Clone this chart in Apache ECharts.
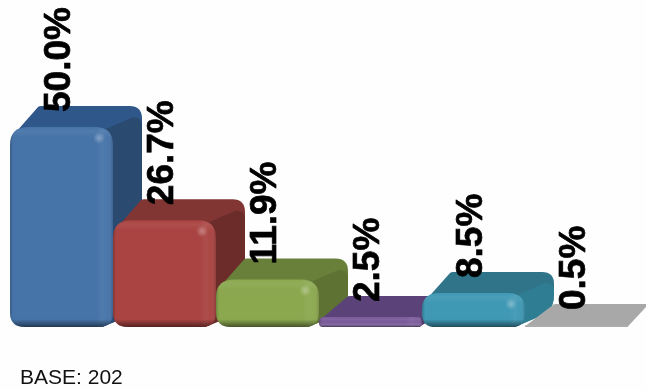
<!DOCTYPE html>
<html><head><meta charset="utf-8">
<style>html,body{margin:0;padding:0;background:#fff}#c{width:646px;height:390px}</style>
<script src="https://cdn.jsdelivr.net/npm/echarts@6/dist/echarts.min.js"></script>
</head><body><div id="c"></div>
<script>
const categories = ['1','2','3','4','5','6'];
const values = [50.0, 26.7, 11.9, 2.5, 8.5, 0.5];
const labels = ['50.0%','26.7%','11.9%','2.5%','8.5%','0.5%'];
const baseText = 'BASE: 202';
const frontColors = ['#4673a8','#a94442','#8ba84f','#7b5b9b','#3f98b4','#ababab'];
const topColors   = ['#30578a','#823634','#68803a','#5b4379','#2f7488','#a8a8a8'];
const sideColors  = ['#2b4a70','#6c2c2a','#5d7233','#503a6b','#2f7d92','#a8a8a8'];
const DX = 29, DY = 21;

function lin(vertical, stops) {
  return {type:'linear', x:0, y:0, x2:vertical?0:1, y2:vertical?1:0, colorStops:stops};
}
function roundedPath(x, y, w, h, rt, rb) {
  const R = x + w, B = y + h;
  return 'M' + (x + rt) + ' ' + y + 'L' + (R - rt) + ' ' + y +
    'Q' + R + ' ' + y + ' ' + R + ' ' + (y + rt) +
    'L' + R + ' ' + (B - rb) + 'Q' + R + ' ' + B + ' ' + (R - rb) + ' ' + B +
    'L' + (x + rb) + ' ' + B + 'Q' + x + ' ' + B + ' ' + x + ' ' + (B - rb) +
    'L' + x + ' ' + (y + rt) + 'Q' + x + ' ' + y + ' ' + (x + rt) + ' ' + y + 'Z';
}
function renderBar(params, api) {
  const i = api.value(0), v = api.value(1);
  const top = api.coord([i, v]), base = api.coord([i, 0]);
  const bw = api.size([1, 0])[0];
  const x = top[0] - bw / 2, w = bw, y = top[1], h = base[1] - top[1];
  const r = Math.min(18, h * 0.5);
  const flat = h < 4;
  const f = frontColors[i], t = topColors[i], s = sideColors[i];
  const R = x + w, B = y + h;
  const rb = flat ? 1 : Math.max(r * 0.7, 3);
  const bx = R + DX - (flat ? 10 : 0);
  const d = 'M' + (x + 1) + ' ' + (y + r * 0.6) +
    'L' + (x + DX - 1) + ' ' + (y - DY + 1) +
    'Q' + (x + DX) + ' ' + (y - DY) + ' ' + (x + DX + 2) + ' ' + (y - DY) +
    'L' + (bx - rb) + ' ' + (y - DY) +
    'Q' + bx + ' ' + (y - DY) + ' ' + bx + ' ' + (y - DY + rb) +
    'L' + bx + ' ' + Math.max(B - DY - rb, y - DY + rb) +
    'Q' + bx + ' ' + (B - DY + 1) + ' ' + (bx - rb * 0.6) + ' ' + (B - DY + rb * 0.6) +
    'L' + (R - r * 0.6) + ' ' + B + 'L' + (x + r) + ' ' + B + 'Z';
  const children = [{type:'path', shape:{pathData:d}, style:{fill:t}}];
  if (!flat) {
    const sd = 'M' + (R - r * 0.4) + ' ' + (y + 2) +
      'L' + (bx - 9) + ' ' + (y - DY + rb * 0.9) +
      'Q' + (bx - 2) + ' ' + (y - DY + rb * 0.9) + ' ' + bx + ' ' + (y - DY + rb * 1.4) +
      'L' + bx + ' ' + Math.max(B - DY - rb, y - DY + rb * 1.4) +
      'Q' + bx + ' ' + (B - DY + 1) + ' ' + (bx - rb * 0.6) + ' ' + (B - DY + rb * 0.6) +
      'L' + (R - r * 0.6) + ' ' + B + 'Z';
    children.push({type:'path', shape:{pathData:sd}, style:{fill:s}});
  }
  const fp = roundedPath(x, y, w, h, r, r * 0.8);
  const edgeV = Math.min(0.4, 7 / Math.max(h, 1));
  const edgeH = Math.min(0.2, 17 / w);
  children.push({type:'path', shape:{pathData:fp}, style:{fill:f}});
  if (!flat) {
    children.push(
      {type:'path', shape:{pathData:fp}, style:{fill:lin(false, [
        {offset:0, color:'rgba(0,0,0,0.2)'},
        {offset:0.03, color:'rgba(0,0,0,0)'},
        {offset:1 - edgeH, color:'rgba(255,255,255,0)'},
        {offset:1 - edgeH * 0.6, color:'rgba(255,255,255,0.05)'},
        {offset:1 - edgeH * 0.3, color:'rgba(255,255,255,0.02)'},
        {offset:1, color:'rgba(0,0,0,0.15)'}
      ])}},
      {type:'path', shape:{pathData:fp}, style:{fill:lin(true, [
        {offset:0, color:'rgba(255,255,255,0)'},
        {offset:edgeV * 0.6, color:'rgba(255,255,255,0.06)'},
        {offset:edgeV * 1.5, color:'rgba(255,255,255,0)'},
        {offset:1 - edgeV * 1.1, color:'rgba(0,0,0,0)'},
        {offset:1, color:'rgba(0,0,0,0.5)'}
      ])}}
    );
  }
  if (h > 20) {
    children.push({type:'circle', shape:{cx:R - 14, cy:y + 11, r:6},
      style:{fill:{type:'radial', x:0.5, y:0.5, r:0.5, colorStops:[
        {offset:0, color:'rgba(255,255,255,0.32)'},
        {offset:1, color:'rgba(255,255,255,0)'}]}}});
  }
  return {type:'group', children};
}
function renderLabel(params, api) {
  const i = api.value(0), v = api.value(1);
  const p = api.coord([i, v]);
  return {type:'text', x:p[0] - 2, y:p[1] - DY + 6, rotation:Math.PI / 2,
    style:{text:labels[i], fill:'#000', stroke:'#000', lineWidth:0.7,
      font:'bold 37px "Liberation Sans", Arial, sans-serif',
      align:'left', verticalAlign:'middle'}};
}
const data = values.map((v, i) => [i, v]);
const chart = echarts.init(document.getElementById('c'), null, {renderer:'canvas'});
chart.setOption({
  animation:false,
  backgroundColor:'#fefefe',
  title:{text:baseText, left:20, top:368, padding:0,
    textStyle:{fontFamily:'"Liberation Sans", Arial, sans-serif', fontSize:21, fontWeight:'normal', color:'#111'}},
  grid:{left:10, top:7, width:618, height:320},
  xAxis:{type:'category', data:categories, show:false},
  yAxis:{type:'value', min:0, max:80, show:false},
  series:[
    {type:'custom', name:'bars', renderItem:renderBar, data, clip:false, z:2,
      encode:{x:0, y:1}},
    {type:'custom', name:'labels', renderItem:renderLabel, data, clip:false, z:3,
      encode:{x:0, y:1}}
  ]
});
</script></body></html>
